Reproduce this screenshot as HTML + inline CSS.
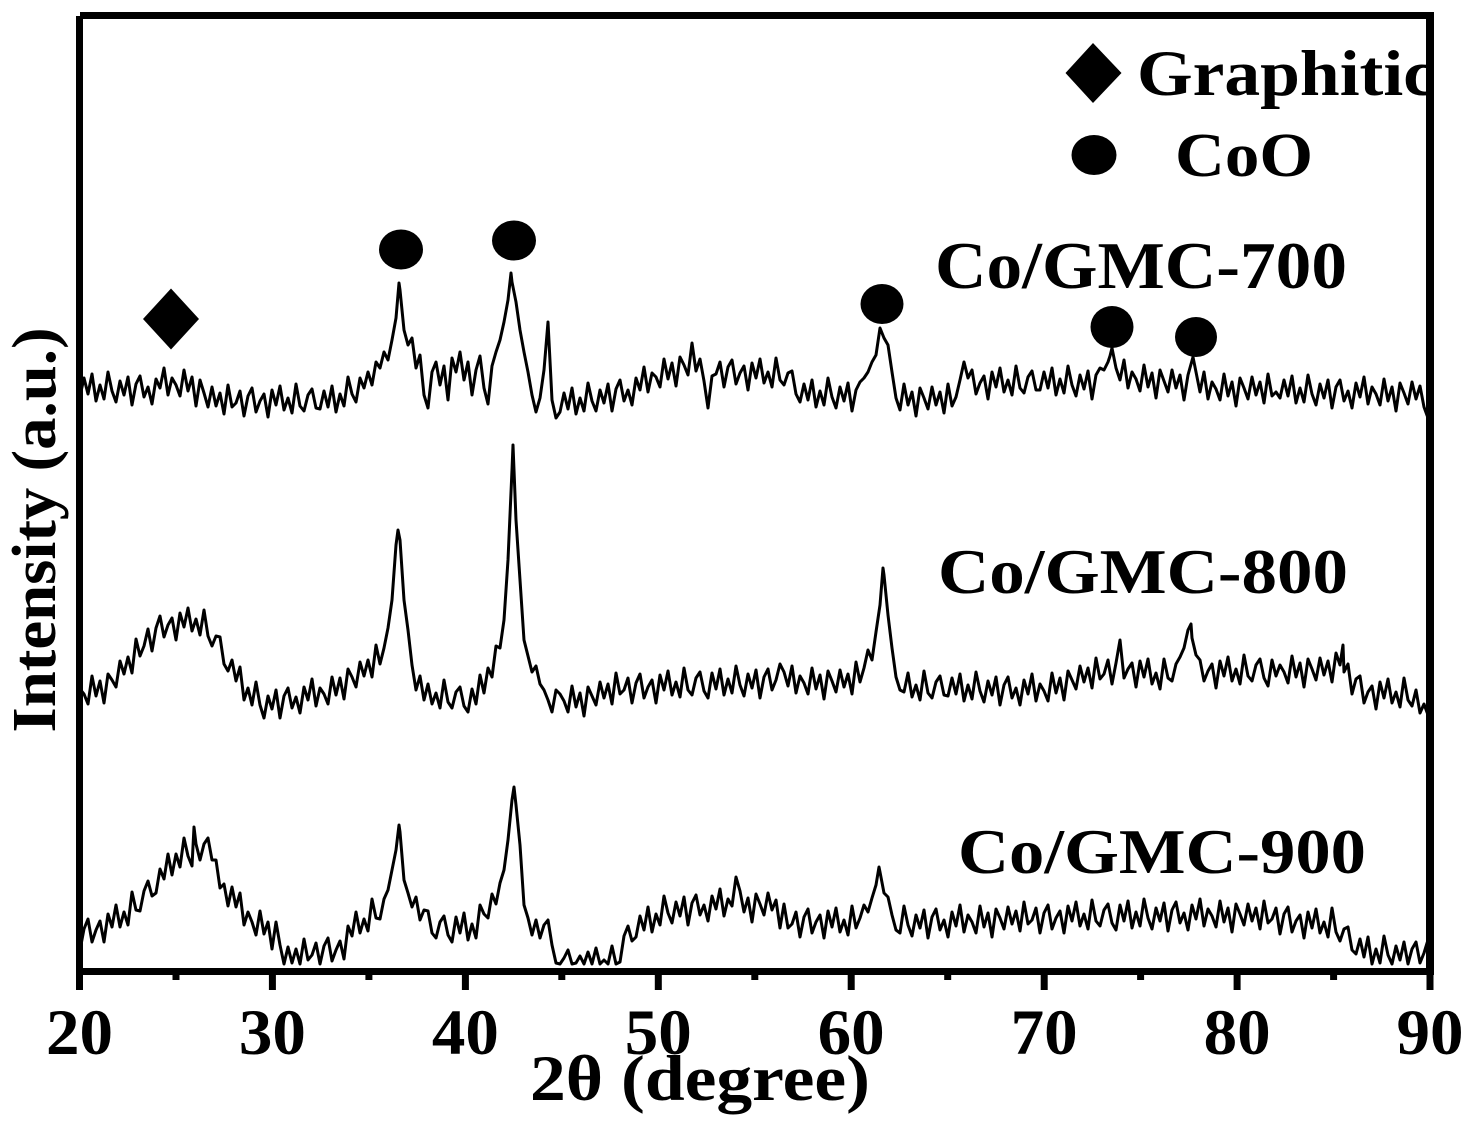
<!DOCTYPE html>
<html>
<head>
<meta charset="utf-8">
<style>
html,body{margin:0;padding:0;background:#fff;}
svg{display:block;}
</style>
</head>
<body>
<svg xmlns="http://www.w3.org/2000/svg" width="1480" height="1128" viewBox="0 0 1480 1128">
<defs>
<clipPath id="plotclip"><rect x="0" y="0" width="1430" height="1128"/></clipPath>
</defs>
<rect width="1480" height="1128" fill="#fff"/>

<g fill="none" stroke="#000" stroke-width="3" stroke-linejoin="round" stroke-linecap="round">
<!-- Co/GMC-700 -->
<polyline points="80,396 84,378 88,394 92,374 96,401 100,385 104,399 108,372 112,391 116,402 120,381 124,395 128,377 132,405 136,384 140,376 144,397 148,387 152,404 156,379 160,388 164,368 168,395 172,378 176,385 180,396 184,370 188,391 192,377 196,406 200,380 204,393 208,407 212,387 216,406 220,393 224,414 228,385 232,407 236,403 240,391 244,416 248,396 252,388 256,412 260,401 264,394 268,417 272,390 276,405 280,386 284,410 288,398 292,413 296,384 300,406 304,411 308,395 312,389 316,408 320,409 324,391 328,407 332,386 336,412 340,394 344,406 348,377 352,394 356,402 360,378 364,388 368,372 372,385 376,362 380,368 384,352 388,360 392,340 396,318 399,283 400,290 404,330 408,345 412,338 416,368 420,355 424,395 428,408 432,372 436,362 440,385 444,366 448,400 452,358 456,372 460,352 464,380 468,362 472,395 476,370 480,356 484,388 488,404 492,366 496,352 500,340 504,322 508,300 511,273 512,282 516,302 520,330 524,352 528,372 532,395 536,412 540,398 544,370 548,322 552,400 556,418 560,412 564,393 568,409 572,388 576,414 580,398 584,411 588,383 592,401 596,411 600,390 604,403 608,384 612,411 616,389 620,380 624,401 628,390 632,405 636,378 640,390 644,367 648,392 652,373 656,377 660,387 664,359 668,379 672,363 676,386 680,357 684,365 688,375 692,343 696,371 700,359 704,381 708,408 712,376 716,374 720,362 724,387 728,367 732,360 736,384 740,373 744,366 748,390 752,363 756,378 760,359 764,383 768,372 772,387 776,358 780,380 784,385 788,373 792,371 796,394 800,402 804,384 808,400 812,380 816,407 820,391 824,405 828,378 832,397 836,408 840,387 844,401 848,383 852,411 856,390 860,382 864,378 868,372 872,362 876,355 880,328 884,338 888,345 892,372 896,398 900,410 904,384 908,405 912,392 916,416 920,388 924,398 928,409 932,387 936,405 940,392 944,413 948,384 952,406 956,397 960,380 964,362 968,378 972,370 976,394 980,383 984,376 988,399 992,372 996,387 1000,368 1004,392 1008,380 1012,395 1016,366 1020,388 1024,393 1028,377 1032,371 1036,390 1040,390 1044,372 1048,388 1052,368 1056,395 1060,379 1064,393 1068,366 1072,385 1076,396 1080,375 1084,389 1088,371 1092,399 1096,375 1100,368 1104,370 1108,362 1110,356 1112,348 1116,368 1120,380 1124,360 1128,388 1132,372 1136,379 1140,391 1144,365 1148,387 1152,373 1156,398 1160,370 1164,381 1168,392 1172,370 1176,388 1180,375 1184,400 1188,375 1193,357 1196,372 1200,392 1204,372 1208,399 1212,382 1216,389 1220,400 1224,374 1228,396 1232,382 1236,406 1240,378 1244,388 1248,399 1252,377 1256,395 1260,382 1264,403 1268,374 1272,396 1276,392 1280,398 1284,380 1288,396 1292,376 1296,403 1300,388 1304,402 1308,375 1312,394 1316,405 1320,384 1324,398 1328,380 1332,408 1336,387 1340,380 1344,401 1348,391 1352,408 1356,383 1360,397 1364,377 1368,404 1372,387 1376,394 1380,405 1384,379 1388,401 1392,387 1396,411 1400,383 1404,393 1408,404 1412,382 1416,399 1420,386 1424,407 1428,418 1430,420"/>
<!-- Co/GMC-800 -->
<polyline points="80,689 84,694 88,704 92,676 96,696 100,681 104,703 108,674 112,680 116,687 120,661 124,674 128,657 132,673 136,639 140,656 144,646 148,629 152,651 156,628 160,616 164,637 168,625 172,618 176,640 180,613 184,627 188,608 192,631 196,619 200,635 204,610 208,636 212,646 216,636 220,637 224,664 228,671 232,660 236,681 240,667 244,700 248,688 252,705 256,682 260,705 264,718 268,696 272,709 276,690 280,718 284,696 288,688 292,708 296,697 300,713 304,687 308,700 312,679 316,706 320,688 324,694 328,704 332,677 336,695 340,678 344,699 348,669 352,677 356,687 360,662 364,676 368,660 372,677 376,645 380,664 384,648 388,628 392,600 396,545 398,530 400,540 404,600 408,630 412,665 416,690 420,676 424,700 428,684 432,704 436,693 440,708 444,680 448,702 452,708 456,692 460,687 464,706 468,712 472,689 476,704 480,675 484,693 488,668 492,677 496,646 500,648 504,620 508,560 512,470 513,445 516,520 520,580 524,640 528,656 532,672 536,666 540,684 544,690 548,700 552,712 556,690 560,694 564,701 568,712 572,686 576,707 580,693 584,716 588,687 592,696 596,705 600,682 604,698 608,684 612,704 616,673 620,694 624,690 628,678 632,703 636,683 640,674 644,698 648,687 652,680 656,703 660,675 664,690 668,671 672,695 676,682 680,697 684,668 688,690 692,695 696,678 700,672 704,691 708,698 712,673 716,689 720,669 724,695 728,679 732,693 736,666 740,685 744,696 748,674 752,688 756,670 760,698 764,677 768,669 772,690 776,680 780,664 784,672 788,686 792,666 796,693 800,676 804,683 808,694 812,668 816,689 820,675 824,699 828,671 832,681 836,692 840,670 844,687 848,674 852,694 856,662 860,682 864,668 868,650 872,660 876,632 880,605 883,568 884,575 888,615 892,648 896,677 900,690 904,692 908,673 912,697 916,685 920,700 924,671 928,693 932,698 936,682 940,676 944,695 948,696 952,678 956,694 960,674 964,701 968,685 972,699 976,672 980,691 984,702 988,681 992,695 996,677 1000,705 1004,685 1008,677 1012,698 1016,688 1020,705 1024,680 1028,694 1032,674 1036,701 1040,684 1044,691 1048,701 1052,673 1056,693 1060,678 1064,700 1068,671 1072,680 1076,689 1080,666 1084,682 1088,668 1092,688 1096,658 1100,679 1104,674 1108,660 1112,684 1116,663 1120,640 1124,678 1128,669 1132,663 1136,687 1140,661 1144,677 1148,659 1152,684 1156,673 1160,689 1164,659 1168,678 1172,681 1176,664 1180,657 1184,648 1188,630 1191,624 1192,638 1196,655 1200,660 1204,681 1208,671 1212,664 1216,688 1220,661 1224,676 1228,657 1232,681 1236,669 1240,684 1244,655 1248,676 1252,681 1256,665 1260,659 1264,678 1268,686 1272,660 1276,676 1280,665 1284,672 1288,683 1292,656 1296,677 1300,663 1304,687 1308,659 1312,669 1316,680 1320,658 1324,675 1328,661 1332,682 1336,653 1340,665 1343,645 1344,672 1348,664 1352,694 1356,679 1360,676 1364,703 1368,692 1372,686 1376,709 1380,682 1384,698 1388,679 1392,703 1396,692 1400,707 1404,678 1408,700 1412,706 1416,690 1420,713 1424,704 1428,715 1430,700"/>
<!-- Co/GMC-900 -->
<polyline points="80,950 84,929 88,919 92,942 96,930 100,921 104,942 108,914 112,927 116,905 120,927 124,912 128,925 132,892 136,910 140,911 144,891 148,881 152,896 156,893 160,869 164,879 168,854 172,875 176,854 180,867 184,838 188,856 192,866 194,827 196,844 200,860 204,844 208,838 212,860 216,860 220,888 224,884 228,906 232,887 236,907 240,893 244,925 248,912 252,922 256,935 260,911 264,934 268,922 272,949 276,922 280,945 284,964 288,947 292,963 296,949 300,964 304,939 308,960 312,955 316,943 320,964 324,946 328,938 332,961 336,950 340,941 344,959 348,926 352,936 356,912 360,933 364,919 368,931 372,899 376,918 380,919 384,899 388,890 392,870 396,850 399,825 400,832 404,880 408,893 412,907 416,897 420,920 424,910 428,911 432,933 436,938 440,922 444,916 448,935 452,942 456,917 460,933 464,913 468,940 472,924 476,938 480,905 484,914 488,918 492,894 496,904 500,883 504,870 508,840 512,800 514,787 516,805 520,845 524,905 528,918 532,935 536,920 540,938 544,925 548,920 552,945 556,963 560,964 564,958 568,950 572,964 576,963 580,956 584,964 588,952 592,964 596,948 600,964 604,960 608,964 612,946 616,964 620,962 624,936 628,926 632,941 636,937 640,916 644,930 648,907 652,932 656,914 660,925 664,896 668,913 672,923 676,902 680,916 684,897 688,925 692,903 696,895 700,915 704,905 708,921 712,896 716,909 720,889 724,916 728,899 732,906 736,877 740,891 744,912 748,898 752,922 756,894 760,904 764,915 768,893 772,910 776,900 780,928 784,904 788,928 792,924 796,912 800,937 804,917 808,909 812,933 816,922 820,915 824,938 828,911 832,927 836,908 840,932 844,920 848,935 852,906 856,928 860,918 864,905 868,912 872,898 876,885 879,867 880,872 884,893 888,897 892,915 896,930 900,933 904,906 908,925 912,936 916,915 920,928 924,910 928,938 932,917 936,909 940,930 944,920 948,937 952,912 956,926 960,905 964,932 968,915 972,922 976,933 980,906 984,927 988,913 992,937 996,909 1000,918 1004,929 1008,907 1012,924 1016,911 1020,931 1024,902 1028,924 1032,920 1036,908 1040,933 1044,913 1048,905 1052,929 1056,918 1060,911 1064,933 1068,906 1072,921 1076,902 1080,926 1084,914 1088,929 1092,900 1096,921 1100,926 1104,910 1108,904 1112,923 1116,930 1120,905 1124,921 1128,901 1132,928 1136,912 1140,926 1144,899 1148,918 1152,929 1156,908 1160,921 1164,903 1168,931 1172,910 1176,902 1180,923 1184,913 1188,930 1192,905 1196,919 1200,899 1204,926 1208,909 1212,916 1216,927 1220,901 1224,922 1228,908 1232,932 1236,904 1240,914 1244,925 1248,904 1252,921 1256,908 1260,929 1264,901 1268,923 1272,919 1276,908 1280,934 1284,914 1288,907 1292,932 1296,921 1300,915 1304,938 1308,912 1312,928 1316,909 1320,933 1324,922 1328,937 1332,908 1336,932 1340,941 1344,929 1348,927 1352,950 1356,954 1360,939 1364,957 1368,937 1372,964 1376,949 1380,963 1384,936 1388,955 1392,964 1396,946 1400,960 1404,942 1408,964 1412,949 1416,942 1420,963 1424,953 1428,940 1430,964"/>
</g>

<g fill="#000">
  <polygon points="171,288.5 199,319 171,349.5 143,319"/>
  <ellipse cx="401" cy="249.5" rx="22" ry="20"/>
  <ellipse cx="514" cy="240.5" rx="22" ry="20"/>
  <ellipse cx="882" cy="304" rx="21.5" ry="20"/>
  <ellipse cx="1112" cy="327" rx="21.5" ry="21"/>
  <ellipse cx="1196" cy="337" rx="21" ry="20"/>
  <polygon points="1093,43 1121.5,73 1093,103 1065.5,73"/>
  <ellipse cx="1094" cy="155" rx="22.5" ry="20"/>
</g>

<g font-family="'Liberation Serif','Times New Roman',serif" font-weight="bold" fill="#000">
  <g clip-path="url(#plotclip)">
    <text x="1137" y="95" font-size="65" textLength="298" lengthAdjust="spacingAndGlyphs">Graphitic</text>
  </g>
  <text x="1175" y="176" font-size="62" textLength="138" lengthAdjust="spacingAndGlyphs">CoO</text>

  <text x="935" y="288" font-size="67" textLength="412" lengthAdjust="spacingAndGlyphs">Co/GMC-700</text>
  <text x="938" y="593" font-size="64" textLength="410" lengthAdjust="spacingAndGlyphs">Co/GMC-800</text>
  <text x="958" y="873" font-size="64" textLength="408" lengthAdjust="spacingAndGlyphs">Co/GMC-900</text>

  <g font-size="65" text-anchor="middle">
    <text x="79.5" y="1054" textLength="67" lengthAdjust="spacingAndGlyphs">20</text>
    <text x="272.4" y="1054" textLength="67" lengthAdjust="spacingAndGlyphs">30</text>
    <text x="465.4" y="1054" textLength="67" lengthAdjust="spacingAndGlyphs">40</text>
    <text x="658.3" y="1054" textLength="67" lengthAdjust="spacingAndGlyphs">50</text>
    <text x="851.2" y="1054" textLength="67" lengthAdjust="spacingAndGlyphs">60</text>
    <text x="1044.1" y="1054" textLength="67" lengthAdjust="spacingAndGlyphs">70</text>
    <text x="1237.1" y="1054" textLength="67" lengthAdjust="spacingAndGlyphs">80</text>
    <text x="1430" y="1054" textLength="67" lengthAdjust="spacingAndGlyphs">90</text>
  </g>

  <text x="530" y="1100" font-size="65" textLength="340" lengthAdjust="spacingAndGlyphs">2θ (degree)</text>
  <text transform="translate(55,530) rotate(-90)" text-anchor="middle" font-size="62" textLength="405" lengthAdjust="spacingAndGlyphs">Intensity (a.u.)</text>
</g>

<g fill="#000">
  <rect x="76" y="16" width="7" height="959"/>
  <rect x="80" y="12" width="1354" height="7"/>
  <rect x="1426" y="15" width="8" height="960"/>
  <rect x="76" y="968" width="1358" height="7"/>
  <rect x="76" y="975" width="7" height="15"/>
  <rect x="268.9" y="975" width="7" height="15"/>
  <rect x="461.9" y="975" width="7" height="15"/>
  <rect x="654.8" y="975" width="7" height="15"/>
  <rect x="847.7" y="975" width="7" height="15"/>
  <rect x="1040.7" y="975" width="7" height="15"/>
  <rect x="1233.6" y="975" width="7" height="15"/>
  <rect x="1426.5" y="975" width="7" height="15"/>
  <rect x="172.5" y="975" width="7" height="5"/>
  <rect x="365.4" y="975" width="7" height="5"/>
  <rect x="558.3" y="975" width="7" height="5"/>
  <rect x="751.3" y="975" width="7" height="5"/>
  <rect x="944.2" y="975" width="7" height="5"/>
  <rect x="1137.1" y="975" width="7" height="5"/>
  <rect x="1330.1" y="975" width="7" height="5"/>
</g>
</svg>
</body>
</html>
